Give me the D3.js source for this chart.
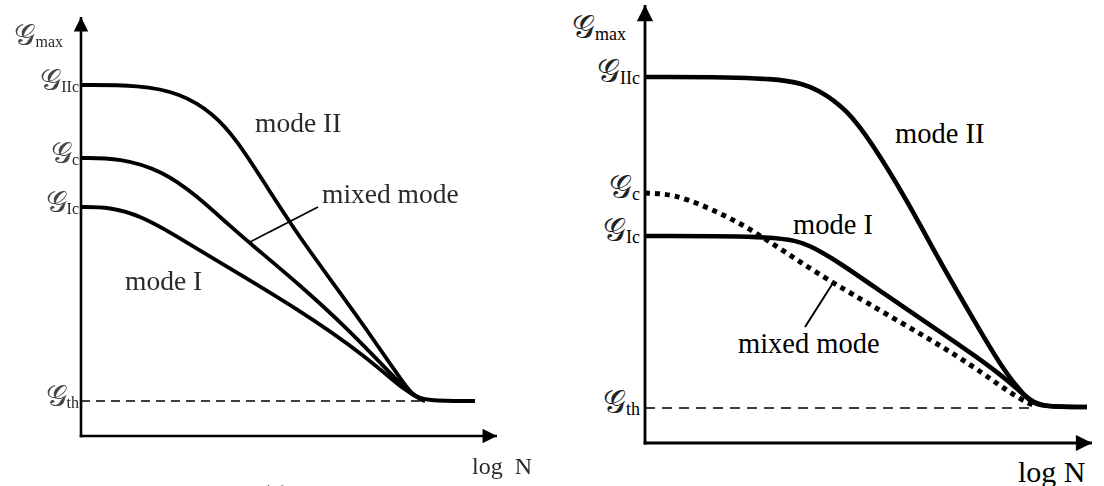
<!DOCTYPE html>
<html>
<head>
<meta charset="utf-8">
<script src="https://cdn.jsdelivr.net/npm/d3@7"></script>
<style>
  html, body { margin: 0; padding: 0; background: #fff; }
  svg { display: block; }
  .serif { font-family: "Liberation Serif", "DejaVu Serif", serif; }
</style>
</head>
<body>
<svg id="chart" width="1104" height="486"></svg>
<script>
// ---------- Panel (a): three separate fatigue curves ----------
const levelsA = [8.775, 6.95, 5.725, 0.875];          // G_IIc, G_c, G_Ic, G_th
const levelSubsA = ["IIc", "c", "Ic", "th"];
const modeIIA = [[0, 8.775], [1.475, 8.775], [2.475, 8.575], [3.3, 8.075], [3.9, 7.4],
  [4.65, 6.225], [5.425, 5.025], [6.3, 3.825], [7.15, 2.65], [7.975, 1.45],
  [8.275, 1.025], [8.6, 0.875], [9.85, 0.875]];
const mixedA = [[0, 6.95], [0.975, 6.95], [2.05, 6.625], [2.9, 6.0], [3.725, 5.25],
  [4.275, 4.775], [5.475, 3.775], [6.725, 2.625], [7.65, 1.65], [8.3, 1.0], [8.6, 0.875]];
const modeIA = [[0, 5.725], [0.725, 5.725], [1.5, 5.5], [2.3, 5.05], [3.2, 4.5],
  [5.475, 3.15], [7.15, 1.975], [8.15, 1.075], [8.6, 0.875]];
const labelsA = [
  { text: "mode II", at: [4.35, 7.6] },
  { text: "mixed mode", at: [6.025, 5.825] },
  { text: "mode I", at: [1.1, 3.65] }
];
const leaderA = [[4.225, 4.85], [5.925, 5.725]];

// ---------- Panel (b): mode I below the mixed-mode curve at the start ----------
const levelsB = [9.15, 6.25, 5.175, 0.875];
const levelSubsB = ["IIc", "c", "Ic", "th"];
const modeIIB = [[0, 9.15], [3.55, 9.15], [4.375, 8.825], [5.05, 8.325], [5.625, 7.575],
  [6.55, 6.075], [7.375, 4.525], [8.25, 3.025], [8.875, 1.95], [9.55, 1.075],
  [9.875, 0.9], [11.05, 0.9]];
const modeIB = [[0, 5.175], [3.45, 5.175], [4.125, 4.95], [4.875, 4.5], [5.95, 3.75],
  [7.2, 2.9], [8.3, 2.15], [9.125, 1.525], [9.625, 1.05], [10.0, 0.9], [11.05, 0.9]];
const mixedB = [[0, 6.25], [0.7, 6.225], [1.55, 5.9], [2.375, 5.5], [3.05, 5.075],
  [3.875, 4.525], [4.7, 4.0], [6.375, 3.025], [7.875, 2.15], [8.95, 1.375],
  [9.425, 1.075], [9.75, 0.925]];
const labelsB = [
  { text: "mode II", at: [6.25, 7.5] },
  { text: "mode I", at: [3.7, 5.225] },
  { text: "mixed mode", at: [2.325, 2.25] }
];
const leaderB = [[4.7, 4.0], [4.0, 2.9]];

const svg = d3.select("#chart");
const defs = svg.append("defs");
defs.append("filter").attr("id", "soft")
  .append("feGaussianBlur").attr("stdDeviation", 0.6);

function arrowMarker(id, size) {
  defs.append("marker")
    .attr("id", id)
    .attr("markerUnits", "userSpaceOnUse")
    .attr("viewBox", "0 0 10 10")
    .attr("refX", 10).attr("refY", 5)
    .attr("markerWidth", size).attr("markerHeight", size * 0.85)
    .attr("orient", "auto")
    .append("path").attr("d", "M0,0 L10,5 L0,10 Z").attr("fill", "#000");
}
arrowMarker("arrA", 17);
arrowMarker("arrB", 19);

function drawPanel(cfg) {
  const g = svg.append("g").attr("class", "serif");
  if (cfg.blur) g.attr("filter", "url(#soft)");
  const x = d3.scaleLinear().domain([0, 10]).range(cfg.xRange);
  const y = d3.scaleLinear().domain([0, 10]).range(cfg.yRange);
  const line = d3.line().x(d => x(d[0])).y(d => y(d[1])).curve(d3.curveBasis);

  // threshold (dashed)
  g.append("line")
    .attr("x1", x(0)).attr("x2", x(cfg.thEnd))
    .attr("y1", y(cfg.levels[3])).attr("y2", y(cfg.levels[3]))
    .attr("stroke", "#000").attr("stroke-width", 1.5)
    .attr("stroke-dasharray", cfg.thDash);

  // curves
  cfg.curves.forEach(c => {
    g.append("path").attr("d", line(c.data))
      .attr("fill", "none").attr("stroke", "#000")
      .attr("stroke-width", c.width)
      .attr("stroke-dasharray", c.dash || null)
      .attr("stroke-linejoin", "round")
      .attr("stroke-linecap", "butt");
  });

  // axes with arrowheads
  g.append("line")
    .attr("x1", x(0)).attr("y1", y(0) + cfg.axisW / 2)
    .attr("x2", x(0)).attr("y2", y(cfg.yMax))
    .attr("stroke", "#000").attr("stroke-width", cfg.axisW)
    .attr("marker-end", `url(#${cfg.marker})`);
  g.append("line")
    .attr("x1", x(0) - cfg.axisW / 2).attr("y1", y(0))
    .attr("x2", x(cfg.xMax)).attr("y2", y(0))
    .attr("stroke", "#000").attr("stroke-width", cfg.axisW)
    .attr("marker-end", `url(#${cfg.marker})`);

  // level labels as ticks of a left axis
  const ax = g.append("g")
    .attr("transform", `translate(${x(0) - cfg.labelGap},0)`)
    .call(d3.axisLeft(y).tickValues(cfg.levels).tickSize(0).tickPadding(0).tickFormat(() => ""));
  ax.select(".domain").remove();
  ax.selectAll(".tick text").each(function (d, i) {
    const t = d3.select(this)
      .attr("fill", cfg.ink).attr("dy", "0.3em").attr("text-anchor", "end");
    t.append("tspan").style("font-size", cfg.gSize + "px").style("font-weight", "normal")
      .attr("fill", cfg.gInk).text("𝒢");
    t.append("tspan").style("font-size", cfg.subSize + "px").attr("dy", "0.12em").text(cfg.subs[i]);
  });
  ax.attr("font-family", null).attr("font-size", null);

  // vertical axis title
  const tt = g.append("text")
    .attr("x", cfg.titlePos[0]).attr("y", cfg.titlePos[1])
    .attr("text-anchor", "end").attr("fill", cfg.ink);
  tt.append("tspan").style("font-size", cfg.gSize + "px").attr("fill", cfg.gInk).text("𝒢");
  tt.append("tspan").style("font-size", cfg.subSize + "px").attr("dy", "0.12em").text("max");

  // horizontal axis title
  g.append("text")
    .attr("x", x(cfg.xTitle[0])).attr("y", y(cfg.xTitle[1]))
    .attr("fill", cfg.ink).style("font-size", cfg.xTitleSize + "px")
    .style("white-space", "pre").text(cfg.xTitleText);

  // curve labels
  g.selectAll("text.lab").data(cfg.labels).join("text")
    .attr("class", "lab")
    .attr("x", d => x(d.at[0])).attr("y", d => y(d.at[1]))
    .attr("fill", cfg.ink).style("font-size", cfg.labelSize + "px")
    .text(d => d.text);

  // leader line to the mixed-mode curve
  g.append("path")
    .attr("d", d3.line().x(d => x(d[0])).y(d => y(d[1]))(cfg.leader))
    .attr("stroke", "#000").attr("stroke-width", cfg.leaderW).attr("fill", "none");

  return g;
}

const gA = drawPanel({
  blur: true, ink: "#2a2a2a", gInk: "#444",
  xRange: [81, 481], yRange: [436, 36],
  levels: levelsA, subs: levelSubsA,
  curves: [{ data: modeIIA, width: 3.8 }, { data: mixedA, width: 3.8 }, { data: modeIA, width: 3.8 }],
  thEnd: 8.5, thDash: "9,6",
  axisW: 2.6, marker: "arrA", yMax: 10.475, xMax: 10.4,
  labelGap: 2, gSize: 30, subSize: 16,
  titlePos: [63, 45],
  xTitle: [9.775, -0.95], xTitleText: "log  N", xTitleSize: 24,
  labels: labelsA, labelSize: 27.5, leader: leaderA, leaderW: 1.6
});
// panel caption, cut by the lower edge
gA.append("text").attr("x", 262).attr("y", 501).attr("fill", "#555")
  .style("font-size", "24px").text("(a)");

drawPanel({
  blur: false, ink: "#000", gInk: "#222",
  xRange: [645, 1045], yRange: [443, 43],
  levels: levelsB, subs: levelSubsB,
  curves: [{ data: modeIIB, width: 4.6 }, { data: modeIB, width: 4.6 }, { data: mixedB, width: 5, dash: "5,5" }],
  thEnd: 9.75, thDash: "10,7",
  axisW: 2.8, marker: "arrB", yMax: 10.95, xMax: 11.175,
  labelGap: 5, gSize: 32, subSize: 18,
  titlePos: [626, 38],
  xTitle: [9.325, -0.975], xTitleText: "log N", xTitleSize: 30,
  labels: labelsB, labelSize: 28.5, leader: leaderB, leaderW: 2
});
</script>
</body>
</html>
